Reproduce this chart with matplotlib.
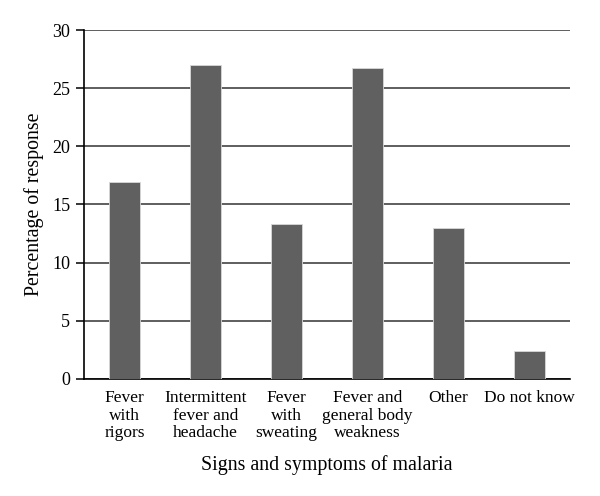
import numpy as np
import matplotlib.pyplot as plt

categories = ["Fever\nwith\nrigors", "Intermittent\nfever and\nheadache", "Fever\nwith\nsweating",
              "Fever and\ngeneral body\nweakness", "Other", "Do not know"]
values = [16.9, 27.0, 13.3, 26.7, 13.0, 2.4]

plt.rcParams['font.family'] = ['Liberation Serif', 'DejaVu Serif']

fig = plt.figure(figsize=(6, 4.96), dpi=100)
ax = fig.add_axes([0.14, 0.236, 0.81, 0.7035])

x = np.arange(len(categories))
ax.bar(x, values, width=0.39, color="#606060", edgecolor="#d8d8d8", linewidth=0.6, zorder=3)

ax.set_ylim(0, 30)
ax.set_xlim(-0.5, len(categories) - 0.5)
ax.set_yticks(np.arange(0, 31, 5))
ax.yaxis.grid(True, color="#333333", linewidth=1.1, zorder=0)
ax.set_axisbelow(True)

for s in ["top", "right"]:
    ax.spines[s].set_visible(False)
ax.spines["left"].set_linewidth(1.2)
ax.spines["bottom"].set_linewidth(1.2)

ax.set_xticks(x)
ax.set_xticklabels(categories, fontsize=12.5, linespacing=1.13, va="top")
ax.tick_params(axis="x", length=0, pad=8)
ax.tick_params(axis="y", labelsize=13, length=6, width=1.1, pad=4)

ax.set_ylabel("Percentage of response", fontsize=14.3, labelpad=6)
ax.set_xlabel("Signs and symptoms of malaria", fontsize=14.3, labelpad=10)

fig.savefig("out.png", dpi=100)
